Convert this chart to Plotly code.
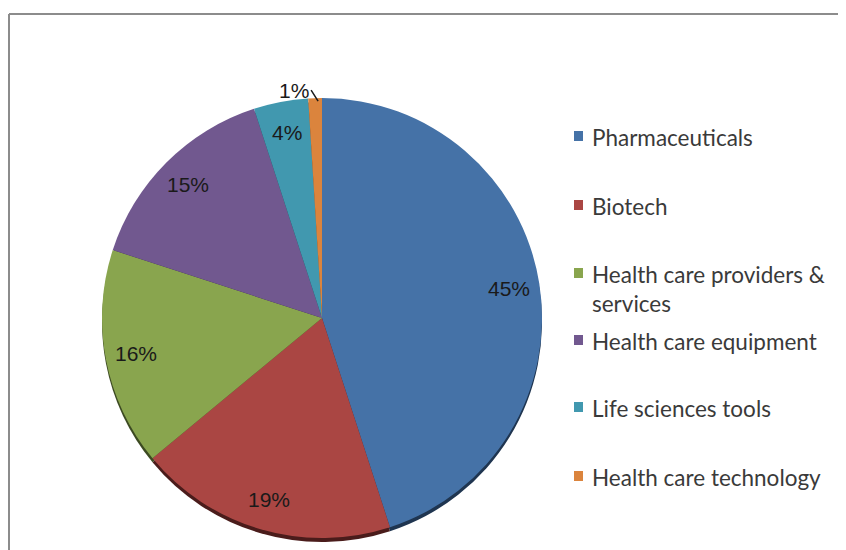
import math
import plotly.graph_objects as go

categories = ["Pharmaceuticals", "Biotech", "Health care providers & services",
              "Health care equipment", "Life sciences tools", "Health care technology"]
shares = [45, 19, 16, 15, 4, 1]
colors = ["#4572A7", "#AA4643", "#89A54E", "#71588F", "#4198AF", "#DB843D"]
shadow_colors = ["#1f3550", "#4a1c1b", "#3c4a22", "#32273f", "#1c434d", "#5f3a1b"]

# page body has an 8px margin; figure fills the rest of the 846x550 window
OFF = 8
W, H = 846 - OFF, 550 - OFF
cx, cy, R = 322, 318, 220


def px_x(x):
    return (x - OFF) / W


def px_y(y):
    return 1 - (y - OFF) / H


dom_x = [px_x(cx - R), px_x(cx + R)]
dom_y = [px_y(cy + R), px_y(cy - R)]

pct_text = [f"{v}%" for v in shares]

fig = go.Figure()

# dark rim under the pie (3D shadow look)
fig.add_trace(go.Pie(
    labels=categories, values=shares, sort=False, direction="clockwise", rotation=0,
    marker=dict(colors=shadow_colors, line=dict(width=0)),
    textinfo="none", hoverinfo="skip", showlegend=False,
    domain=dict(x=dom_x, y=[dom_y[0] - 4 / H, dom_y[1] - 4 / H]),
))

fig.add_trace(go.Pie(
    labels=categories, values=shares, sort=False, direction="clockwise", rotation=0,
    marker=dict(colors=colors, line=dict(width=0)),
    textinfo="none", showlegend=False,
    domain=dict(x=dom_x, y=dom_y),
))

# percentage labels placed along each slice's bisector
total = sum(shares)
label_font = dict(family="Liberation Sans, Arial", size=21, color="#1a1a1a")
cum = 0.0
for i, v in enumerate(shares):
    mid = (cum + v / 2) / total * 2 * math.pi
    cum += v
    if i == len(shares) - 1:
        # small slice: outside label with leader line
        hx = cx + R * math.sin(mid)
        hy = cy - R * math.cos(mid)
        fig.add_annotation(
            x=px_x(hx + 3), y=px_y(hy + 3), xref="paper", yref="paper",
            text=pct_text[i], showarrow=True, arrowhead=0, arrowwidth=1.5,
            arrowcolor="#1a1a1a", ax=-7, ay=-11, xanchor="right", yanchor="middle",
            font=label_font,
        )
        continue
    k = 0.86
    lx = cx + k * R * math.sin(mid)
    ly = cy - k * R * math.cos(mid)
    fig.add_annotation(x=px_x(lx), y=px_y(ly), xref="paper", yref="paper",
                       xanchor="center", yanchor="middle",
                       text=pct_text[i], showarrow=False, font=label_font)

# legend drawn as squares + text
legend_labels = ["Pharmaceuticals", "Biotech", "Health care providers &<br>services",
                 "Health care equipment", "Life sciences tools", "Health care technology"]
legend_y = [136, 205, 273, 340, 407, 476]
for lab, col, ly in zip(legend_labels, colors, legend_y):
    fig.add_shape(type="rect", xref="paper", yref="paper",
                  x0=px_x(574), x1=px_x(583), y0=px_y(ly + 5), y1=px_y(ly - 5),
                  fillcolor=col, line=dict(width=0))
    fig.add_annotation(x=px_x(590), y=px_y(ly - 14), xref="paper", yref="paper",
                       text=lab, showarrow=False, xanchor="left", yanchor="top",
                       align="left",
                       font=dict(family="Lato, Open Sans", size=22.5, color="#3a3a3a"))

# chart border (left and top edges visible in the window)
border = dict(color="#8c8c8c", width=2)
fig.add_shape(type="line", xref="paper", yref="paper",
              x0=px_x(9), x1=px_x(9), y0=-0.05, y1=px_y(14), line=border)
fig.add_shape(type="line", xref="paper", yref="paper",
              x0=px_x(9), x1=1.05, y0=px_y(14), y1=px_y(14), line=border)

fig.update_layout(
    width=W, height=H,
    margin=dict(l=0, r=0, t=0, b=0),
    paper_bgcolor="white", plot_bgcolor="white",
)

fig.write_html("out.html")
